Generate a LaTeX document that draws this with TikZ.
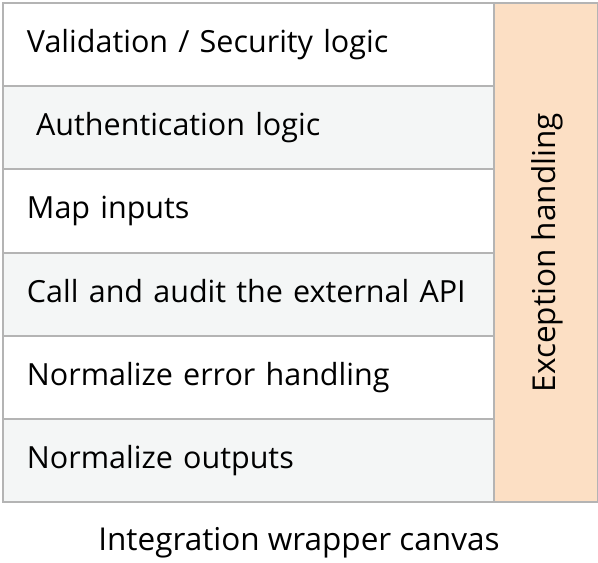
\documentclass[tikz,border=0pt]{standalone}
\usepackage{fontspec}
\setmainfont{Open Sans}
\definecolor{gridline}{HTML}{B4B4B4}
\definecolor{rowwhite}{HTML}{FFFFFF}
\definecolor{rowgray}{HTML}{F4F6F6}
\definecolor{sidebar}{HTML}{FCDFC4}
\begin{document}
\begin{tikzpicture}[x=1pt,y=-1pt,
  layer/.style={draw=gridline, line width=2pt, anchor=north west,
    minimum width=491pt, minimum height=83.2pt, inner xsep=24pt,
    text width=443pt, text height=23.2pt, text depth=7.3pt,
    align=left, font=\fontsize{30.5}{36}\selectfont},
  plain/.style={layer, fill=rowwhite},
  shaded/.style={layer, fill=rowgray},
  sidebox/.style={draw=gridline, line width=2pt, fill=sidebar, anchor=north west,
    minimum width=104pt, minimum height=499.2pt},
  caption/.style={font=\fontsize{31.5}{36}\selectfont}]
\useasboundingbox (0,0) rectangle (598,563);
% stacked steps of the wrapper
\node[plain]  (validate) at (2,2)     {Validation / Security logic};
\node[shaded] (auth)     at (2,85.2)  {\hspace*{0.3em}Authentication logic};
\node[plain]  (mapin)    at (2,168.4) {Map inputs};
\node[shaded] (callapi)  at (2,251.6) {Call and audit the external API};
\node[plain]  (normerr)  at (2,334.8) {Normalize error handling};
\node[shaded] (normout)  at (2,418)   {Normalize outputs};
% exception handling spans all steps
\node[sidebox] (exc) at (493,2) {};
\node[caption, rotate=90] (exclabel) at ([xshift=1pt]exc.center) {Exception handling};
% caption below the stack
\node[caption] (title) at (299,543) {Integration wrapper canvas};
\end{tikzpicture}
\end{document}
